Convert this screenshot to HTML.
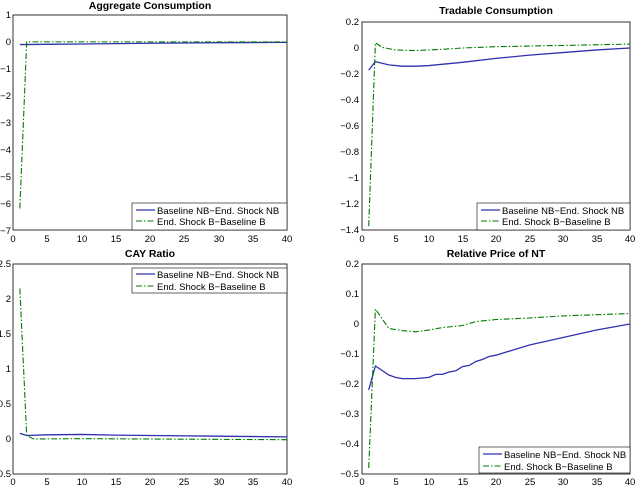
<!DOCTYPE html><html><head><meta charset="utf-8"><style>body{margin:0;background:#fff}svg{display:block}text{font-family:"Liberation Sans",sans-serif;font-size:9.5px;fill:#000}.t{font-weight:bold;font-size:10.5px}</style></head><body>
<svg width="635" height="486" viewBox="0 0 635 486">
<defs><style>.b{fill:none;stroke:#3030b0;stroke-width:1.3;vector-effect:non-scaling-stroke}.g{fill:none;stroke:#007a00;stroke-width:1.1;stroke-dasharray:6 2 1.5 2;vector-effect:non-scaling-stroke}.ax{fill:none;stroke:#000;stroke-width:0.8}</style></defs>

<!-- Panel 1 -->
<text class="t" x="150" y="9" text-anchor="middle">Aggregate Consumption</text>
<rect class="ax" x="13" y="15" width="274" height="215"/>
<g text-anchor="end">
<text x="11" y="18">1</text><text x="11" y="45">0</text><text x="11" y="72">−1</text><text x="11" y="99">−2</text><text x="11" y="126">−3</text><text x="11" y="153">−4</text><text x="11" y="180">−5</text><text x="11" y="207">−6</text><text x="11" y="234">−7</text></g>
<g text-anchor="middle"><text x="13" y="242">0</text><text x="47" y="242">5</text><text x="82" y="242">10</text><text x="116" y="242">15</text><text x="150" y="242">20</text><text x="184" y="242">25</text><text x="219" y="242">30</text><text x="253" y="242">35</text><text x="287" y="242">40</text></g>
<g transform="translate(13,41.875) scale(6.85,-26.875)">
<polyline class="b" points="1,-0.1 5,-0.09 10,-0.08 20,-0.05 30,-0.03 40,-0.02"/>
<polyline class="g" points="1,-6.2 2,0 10,0 20,0 40,0"/></g>
<rect x="132" y="203" width="155" height="27" fill="#fff" stroke="#000" stroke-width="0.6"/>
<line x1="136" y1="210" x2="155" y2="210" stroke="#3030b0" stroke-width="1.3"/>
<line x1="136" y1="221" x2="155" y2="221" stroke="#007a00" stroke-dasharray="6 2 1.5 2"/>
<text x="157" y="214">Baseline NB−End. Shock NB</text><text x="157" y="225">End. Shock B−Baseline B</text>

<!-- Panel 2 -->
<text class="t" x="496" y="14" text-anchor="middle">Tradable Consumption</text>
<rect class="ax" x="362" y="22" width="268" height="208"/>
<g text-anchor="end"><text x="359" y="25">0.2</text><text x="359" y="51">0</text><text x="359" y="77">−0.2</text><text x="359" y="103">−0.4</text><text x="359" y="129">−0.6</text><text x="359" y="155">−0.8</text><text x="359" y="181">−1</text><text x="359" y="207">−1.2</text><text x="359" y="233">−1.4</text></g>
<g text-anchor="middle"><text x="362" y="242">0</text><text x="396" y="242">5</text><text x="429" y="242">10</text><text x="463" y="242">15</text><text x="496" y="242">20</text><text x="530" y="242">25</text><text x="563" y="242">30</text><text x="597" y="242">35</text><text x="630" y="242">40</text></g>
<g transform="translate(362,48) scale(6.7,-130)">
<polyline class="b" points="1,-0.17 2,-0.105 4,-0.13 6,-0.14 8,-0.14 10,-0.135 15,-0.11 20,-0.08 25,-0.055 30,-0.035 35,-0.015 40,0"/>
<polyline class="g" points="1,-1.37 2,0.04 3,0.005 5,-0.015 8,-0.02 12,-0.01 15,0 20,0.01 30,0.02 40,0.03"/></g>
<rect x="477" y="203" width="153" height="27" fill="#fff" stroke="#000" stroke-width="0.6"/>
<line x1="481" y1="210" x2="500" y2="210" stroke="#3030b0" stroke-width="1.3"/>
<line x1="481" y1="221" x2="500" y2="221" stroke="#007a00" stroke-dasharray="6 2 1.5 2"/>
<text x="502" y="214">Baseline NB−End. Shock NB</text><text x="502" y="225">End. Shock B−Baseline B</text>

<!-- Panel 3 -->
<text class="t" x="150" y="257" text-anchor="middle">CAY Ratio</text>
<rect class="ax" x="13" y="264" width="274" height="210"/>
<g text-anchor="end"><text x="11" y="267">2.5</text><text x="11" y="302">2</text><text x="11" y="337">1.5</text><text x="11" y="372">1</text><text x="11" y="407">0.5</text><text x="11" y="442">0</text><text x="11" y="477">−0.5</text></g>
<g text-anchor="middle"><text x="13" y="485">0</text><text x="47" y="485">5</text><text x="82" y="485">10</text><text x="116" y="485">15</text><text x="150" y="485">20</text><text x="184" y="485">25</text><text x="219" y="485">30</text><text x="253" y="485">35</text><text x="287" y="485">40</text></g>
<g transform="translate(13,439) scale(6.85,-70)">
<polyline class="b" points="1,0.08 2,0.05 5,0.06 10,0.065 15,0.055 20,0.05 30,0.04 40,0.03"/>
<polyline class="g" points="1,2.15 2,0.05 3,0 10,0.005 20,0 30,-0.005 40,-0.01"/></g>
<rect x="132" y="268" width="155" height="25" fill="#fff" stroke="#000" stroke-width="0.6"/>
<line x1="136" y1="274" x2="155" y2="274" stroke="#3030b0" stroke-width="1.3"/>
<line x1="136" y1="286" x2="155" y2="286" stroke="#007a00" stroke-dasharray="6 2 1.5 2"/>
<text x="157" y="278">Baseline NB−End. Shock NB</text><text x="157" y="290">End. Shock B−Baseline B</text>

<!-- Panel 4 -->
<text class="t" x="496" y="257" text-anchor="middle">Relative Price of NT</text>
<rect class="ax" x="362" y="264" width="268" height="210"/>
<g text-anchor="end"><text x="359" y="267">0.2</text><text x="359" y="297">0.1</text><text x="359" y="327">0</text><text x="359" y="357">−0.1</text><text x="359" y="387">−0.2</text><text x="359" y="417">−0.3</text><text x="359" y="447">−0.4</text><text x="359" y="477">−0.5</text></g>
<g text-anchor="middle"><text x="362" y="485">0</text><text x="396" y="485">5</text><text x="429" y="485">10</text><text x="463" y="485">15</text><text x="496" y="485">20</text><text x="530" y="485">25</text><text x="563" y="485">30</text><text x="597" y="485">35</text><text x="630" y="485">40</text></g>
<g transform="translate(362,324) scale(6.7,-300)">
<polyline class="b" points="1,-0.22 2,-0.14 3,-0.155 4,-0.17 5,-0.178 6,-0.182 8,-0.182 10,-0.178 11,-0.168 12,-0.168 13,-0.16 14,-0.156 15,-0.142 16,-0.138 17,-0.125 18,-0.118 19,-0.108 20,-0.104 25,-0.07 30,-0.045 35,-0.02 40,0"/>
<polyline class="g" points="1,-0.48 2,0.05 4,-0.015 6,-0.022 8,-0.026 10,-0.02 12,-0.012 15,-0.005 17,0.008 20,0.015 25,0.02 30,0.027 40,0.035"/></g>
<rect x="479" y="447" width="151" height="26" fill="#fff" stroke="#000" stroke-width="0.6"/>
<line x1="483" y1="454" x2="502" y2="454" stroke="#3030b0" stroke-width="1.3"/>
<line x1="483" y1="466" x2="502" y2="466" stroke="#007a00" stroke-dasharray="6 2 1.5 2"/>
<text x="504" y="458">Baseline NB−End. Shock NB</text><text x="504" y="470">End. Shock B−Baseline B</text>
</svg></body></html>
